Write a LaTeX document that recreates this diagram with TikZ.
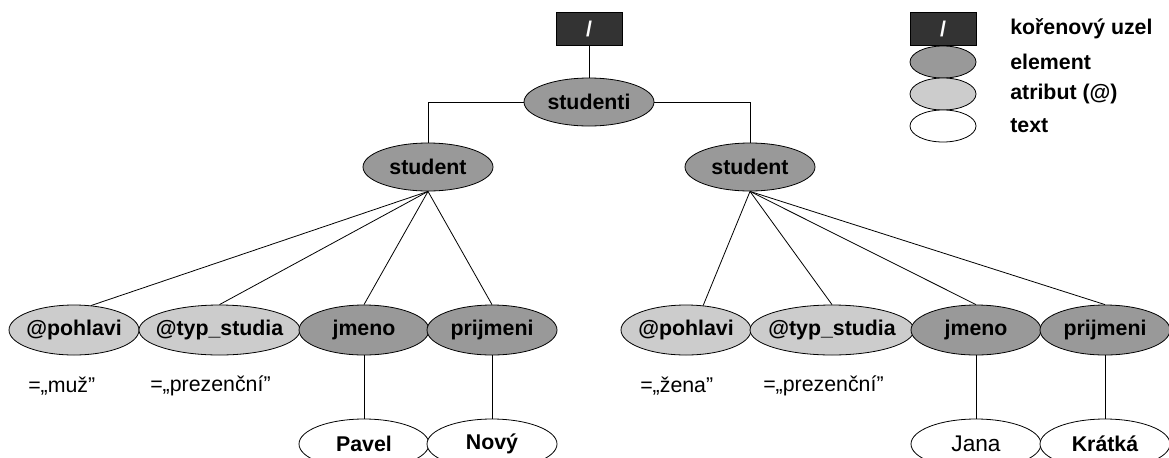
\documentclass[tikz,border=0pt]{standalone}
\usepackage{fontspec}
\setmainfont{Liberation Sans}
\usetikzlibrary{shapes.geometric, positioning}
\usepackage{xcolor}
\definecolor{rootdark}{RGB}{51, 51, 51}
\definecolor{elemgray}{RGB}{153, 153, 153}
\definecolor{attrgray}{RGB}{204, 204, 204}
\newcommand{\nt}[1]{\makebox[0pt]{#1}}

\begin{document}
\begin{tikzpicture}[
    x=0.75pt, y=-0.75pt,
    every node/.style={font=\fontsize{16}{19}\selectfont\bfseries},
    element/.style={ellipse, draw=black, fill=elemgray, minimum width=97.5pt, minimum height=37.5pt, inner sep=0pt, line width=0.6pt},
    attribute/.style={element, fill=attrgray},
    textnode/.style={element, fill=white},
    rootbox/.style={rectangle, draw=black, fill=rootdark, text=white, minimum width=49.5pt, minimum height=24.75pt, inner sep=0pt, line width=0.6pt},
    keybox/.style={minimum width=49.5pt, minimum height=24pt},
    value/.style={font=\fontsize{16}{19}\selectfont, anchor=west, inner sep=0pt},
    keylabel/.style={anchor=west, inner sep=0pt},
    link/.style={line width=0.6pt, color=black},
]
\useasboundingbox (0,0) rectangle (1169,457);

% Root and top element
\node[rootbox] (root) at (589, 29) {/};
\node[element, minimum height=36pt] (studenti) at (589, 102) {\nt{studenti}};
\draw[link] (root) -- (studenti);

% Two students
\node[element, minimum height=36pt] (studentA) at (428, 167) {\nt{student}};
\node[element, minimum height=36pt] (studentB) at (750, 167) {\nt{student}};
\draw[link] (studenti.west) -| (studentA.north);
\draw[link] (studenti.east) -| (studentB.north);

% First student
\node[attribute] (pohlaviA) at (74, 330) {\nt{@pohlavi}};
\node[attribute, minimum width=120.75pt] (typA) at (219.5, 330) {\nt{@typ\_studia}};
\node[element] (jmenoA) at (364, 330) {\nt{jmeno}};
\node[element] (prijmeniA) at (492, 330) {\nt{prijmeni}};
\draw[link] (studentA.south) -- (pohlaviA.55);
\draw[link] (studentA.south) -- (typA.north);
\draw[link] (studentA.south) -- (jmenoA.north);
\draw[link] (studentA.south) -- (prijmeniA.north);

\node[value] (muz) at (28, 386) {=„muž"};
\node[value] (prezA) at (150, 386) {=„prezenční"};

\node[textnode] (pavel) at (364, 444) {\nt{Pavel}};
\node[textnode] (novy) at (492, 444) {\nt{Nový}};
\draw[link] (jmenoA) -- (pavel);
\draw[link] (prijmeniA) -- (novy);

% Second student
\node[attribute] (pohlaviB) at (686, 330) {\nt{@pohlavi}};
\node[attribute, minimum width=123pt] (typB) at (832, 330) {\nt{@typ\_studia}};
\node[element] (jmenoB) at (976, 330) {\nt{jmeno}};
\node[element] (prijmeniB) at (1105, 330) {\nt{prijmeni}};
\draw[link] (studentB.south) -- (pohlaviB.55);
\draw[link] (studentB.south) -- (typB.north);
\draw[link] (studentB.south) -- (jmenoB.north);
\draw[link] (studentB.south) -- (prijmeniB.north);

\node[value] (zena) at (640, 386) {=„žena"};
\node[value] (prezB) at (763, 386) {=„prezenční"};

\node[textnode] (jana) at (976, 444) {\nt{\mdseries\fontsize{17}{20}\selectfont Jana}};
\node[textnode] (kratka) at (1105, 444) {\nt{Krátká}};
\draw[link] (jmenoB) -- (jana);
\draw[link] (prijmeniB) -- (kratka);

% Legend
\node[rootbox] (keyroot) at (943, 29) {/};
\node[element, keybox] (keyelem) at (943, 62) {};
\node[attribute, keybox] (keyattr) at (943, 94) {};
\node[textnode, keybox] (keytext) at (943, 126) {};
\node[keylabel] (lblroot) at (1010, 29) {kořenový uzel};
\node[keylabel] (lblelem) at (1010, 62) {element};
\node[keylabel] (lblattr) at (1010, 94) {atribut (@)};
\node[keylabel] (lbltext) at (1010, 126) {text};

\end{tikzpicture}
\end{document}
